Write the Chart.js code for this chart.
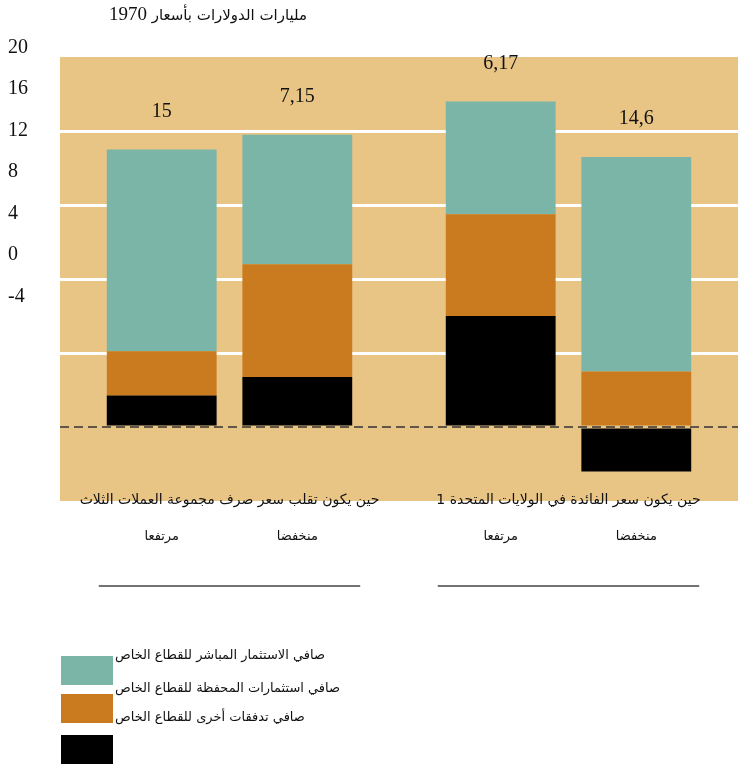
<!DOCTYPE html>
<html><head><meta charset="utf-8">
<script src="https://cdn.jsdelivr.net/npm/chart.js@4.4.1/dist/chart.umd.min.js"></script>
<style>
html,body{margin:0;padding:0;background:#fff;}
#wrap{position:relative;width:738px;height:767px;overflow:hidden;}
#c{position:absolute;left:0;top:0;}
.t{position:absolute;white-space:nowrap;font-family:"Liberation Serif","DejaVu Sans",serif;color:#111;}
.box{position:absolute;width:52px;height:29px;}
</style></head><body>
<div id="wrap">
<canvas id="c" width="738" height="767"></canvas>
<div id="title" class="t" dir="rtl"></div>
<div id="legend"></div>
</div>
<script>
// ---- data ----
const titleText = 'مليارات الدولارات بأسعار 1970';
const groupLabels = ['حين يكون تقلب سعر صرف مجموعة العملات الثلاث', 'حين يكون سعر الفائدة في الولايات المتحدة 1'];
const stackLabels = ['مرتفعا', 'منخفضا'];
const seriesNames = ['صافي الاستثمار المباشر للقطاع الخاص', 'صافي استثمارات المحفظة للقطاع الخاص', 'صافي تدفقات أخرى للقطاع الخاص'];
// values per group (exchange-rate group, US-interest group)
const fdiHigh = [10.9, 6.1];
const fdiLow = [7.0, 11.6];
const portfolioHigh = [2.4, 5.5];
const portfolioLow = [6.1, 3.0];
const otherHigh = [1.7, 6.0];
const otherLow = [2.7, -2.4];
const totalLabelsHigh = ['15', '6,17'];
const totalLabelsLow = ['7,15', '14,6'];
const yTickValues = [20, 16, 12, 8, 4, 0, -4];
const gridValues = [4, 8, 12, 16];

// ---- styles ----
const colors = ['#7AB5A8', '#CB7B1F', '#000000'];
const panelColor = '#E8C485';
const serif = '"Liberation Serif", "DejaVu Sans", serif';
const arabic = '"DejaVu Sans", sans-serif';

// title: digits in serif, Arabic words smaller
const tEl = document.getElementById('title');
tEl.style.cssText = 'left:208px;top:3px;transform:translateX(-50%);line-height:22px;';
titleText.split(/(\d+)/).forEach(part => {
  if (!part) return;
  const sp = document.createElement('span');
  sp.textContent = part;
  if (/^\d+$/.test(part)) { sp.style.fontFamily = serif; sp.style.fontSize = '19px'; }
  else { sp.style.fontFamily = arabic; sp.style.fontSize = '15px'; }
  tEl.appendChild(sp);
});

const legend = document.getElementById('legend');
const boxTops = [656, 694, 735];
const textTops = [644, 677, 706];
colors.forEach((c, i) => {
  const b = document.createElement('div');
  b.className = 'box';
  b.style.left = '61px'; b.style.top = boxTops[i] + 'px'; b.style.background = c;
  legend.appendChild(b);
});
seriesNames.forEach((n, i) => {
  const s = document.createElement('div');
  s.className = 't'; s.dir = 'rtl';
  s.textContent = n;
  s.style.cssText += 'left:115px;top:' + textTops[i] + 'px;font-size:13px;line-height:22px;font-family:' + arabic + ';';
  legend.appendChild(s);
});

const panelPlugin = {
  id: 'panel',
  beforeDraw(chart) {
    const {ctx, chartArea} = chart;
    const y = chart.scales.y;
    const top = y.getPixelForValue(20), bot = y.getPixelForValue(-4);
    ctx.save();
    ctx.fillStyle = panelColor;
    ctx.fillRect(chartArea.left, top, chart.width - chartArea.left, bot - top);
    ctx.restore();
  },
  beforeDatasetsDraw(chart) {
    const {ctx, chartArea} = chart;
    const y0 = chart.scales.y.getPixelForValue(0);
    ctx.save();
    ctx.strokeStyle = '#333';
    ctx.lineWidth = 1.4;
    ctx.setLineDash([9, 5]);
    ctx.beginPath();
    ctx.moveTo(chartArea.left, y0);
    ctx.lineTo(chart.width, y0);
    ctx.stroke();
    ctx.restore();
  },
  afterDatasetsDraw(chart) {
    const {ctx, chartArea} = chart;
    const xs = chart.scales.x;
    const metaTopH = chart.getDatasetMeta(4), metaTopL = chart.getDatasetMeta(5);
    const metaBotH = chart.getDatasetMeta(0), metaBotL = chart.getDatasetMeta(1);
    ctx.save();
    ctx.fillStyle = '#111';
    ctx.textAlign = 'center';
    ctx.textBaseline = 'middle';
    // stack totals
    [[metaTopH, totalLabelsHigh], [metaTopL, totalLabelsLow]].forEach(([m, lbls]) => {
      m.data.forEach((bar, i) => {
        ctx.font = '20px ' + serif;
        ctx.fillText(lbls[i], bar.x, bar.y - 38);
      });
    });
    // group labels (category ticks)
    ctx.font = '14px ' + arabic;
    groupLabels.forEach((g, i) => {
      ctx.fillText(g, xs.getPixelForValue(i), chartArea.bottom - 1);
    });
    // stack labels
    [metaBotH, metaBotL].forEach((m, k) => {
      m.data.forEach((bar) => {
        ctx.font = '13px ' + arabic;
        ctx.fillText(stackLabels[k], bar.x, chartArea.bottom + 36);
      });
    });
    // group underlines
    ctx.strokeStyle = '#444';
    ctx.lineWidth = 1.5;
    metaBotH.data.forEach((bar, i) => {
      const barL = metaBotL.data[i];
      const left = bar.x - bar.width / 2 - 8;
      const right = barL.x + barL.width / 2 + 8;
      const yy = chartArea.bottom + 85;
      ctx.beginPath();
      ctx.moveTo(left, yy);
      ctx.lineTo(right, yy);
      ctx.stroke();
    });
    ctx.restore();
  }
};

const mk = (label, data, stack, color) => ({
  label, data, stack, backgroundColor: color, borderWidth: 0,
  categoryPercentage: 0.8, barPercentage: 0.81
});

new Chart(document.getElementById('c'), {
  type: 'bar',
  data: {
    labels: groupLabels,
    datasets: [
      mk(seriesNames[2], otherHigh, 'high', colors[2]),
      mk(seriesNames[2], otherLow, 'low', colors[2]),
      mk(seriesNames[1], portfolioHigh, 'high', colors[1]),
      mk(seriesNames[1], portfolioLow, 'low', colors[1]),
      mk(seriesNames[0], fdiHigh, 'high', colors[0]),
      mk(seriesNames[0], fdiLow, 'low', colors[0])
    ]
  },
  options: {
    responsive: false,
    animation: false,
    layout: {padding: {top: 57, left: 8, right: 0, bottom: 186}},
    plugins: {legend: {display: false}, tooltip: {enabled: false}, title: {display: false}},
    scales: {
      x: {
        stacked: true,
        grid: {display: false, drawTicks: false},
        border: {display: false},
        ticks: {display: false},
        afterFit(s) { s.height = 80; }
      },
      y: {
        stacked: true,
        min: -4, max: 20,
        position: 'left',
        weight: 0,
        ticks: {display: false, stepSize: 4},
        grid: {
          drawTicks: false,
          lineWidth: 3,
          color: (c) => (c.tick && gridValues.includes(c.tick.value)) ? '#ffffff' : 'rgba(0,0,0,0)'
        },
        border: {display: false},
        afterFit(s) { s.width = 0; }
      },
      yl: {
        type: 'linear',
        position: 'left',
        weight: 1,
        min: -23.71, max: 19.09,
        grid: {display: false, drawTicks: false},
        border: {display: false},
        ticks: {color: '#111', font: {family: serif, size: 20}, crossAlign: 'far', padding: 0, autoSkip: false,
          callback: (v) => String(v)},
        afterBuildTicks(s) { s.ticks = yTickValues.map(v => ({value: v})); },
        afterFit(s) { s.width = 52; }
      }
    }
  },
  plugins: [panelPlugin]
});
</script>
</body></html>
